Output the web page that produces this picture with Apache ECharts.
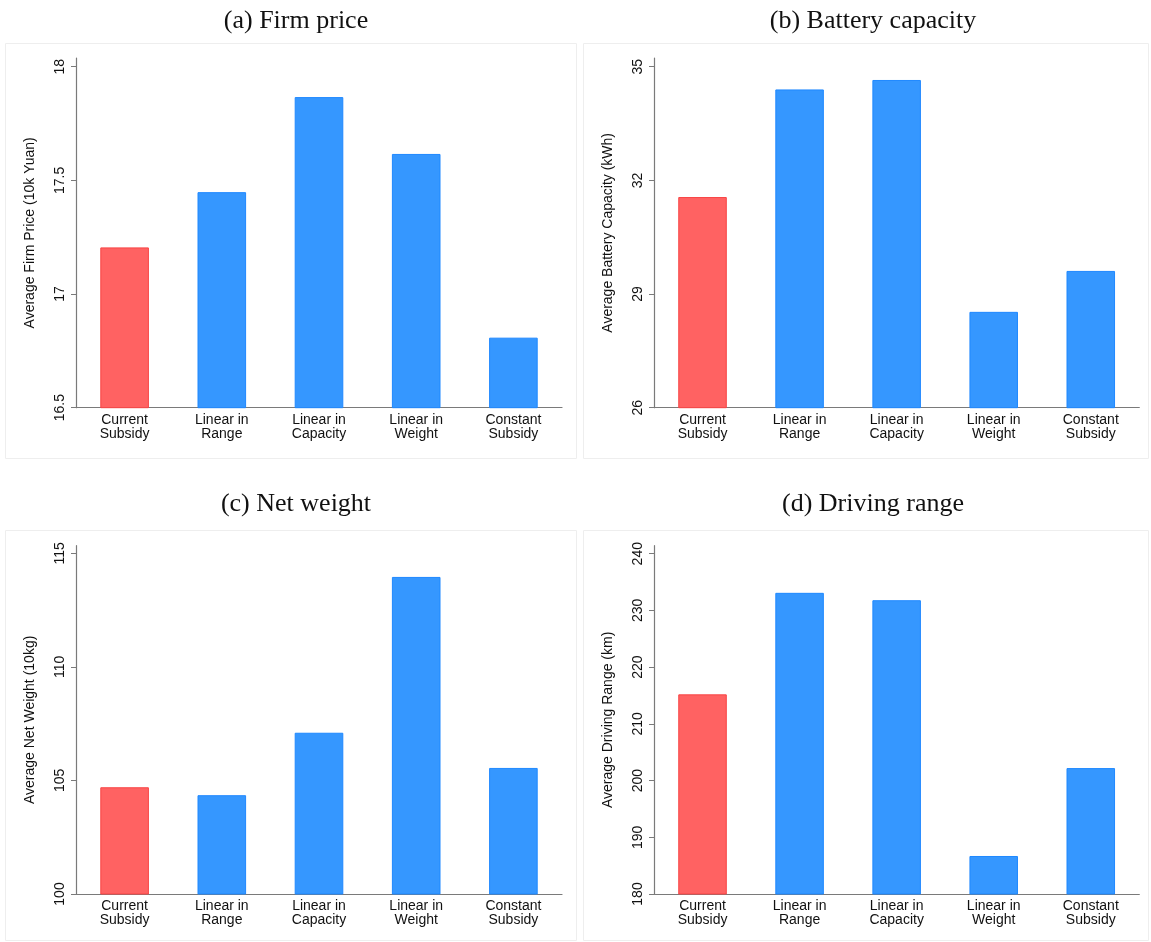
<!DOCTYPE html>
<html>
<head>
<meta charset="utf-8">
<script src="https://cdn.jsdelivr.net/npm/echarts@6/dist/echarts.min.js"></script>
<style>
  html, body { margin: 0; padding: 0; background: #fff; }
  #chart { width: 1151px; height: 942px; }
</style>
</head>
<body>
<div id="chart"></div>
<script>
// Policy scenarios shown on every panel
const categories = ['Current\nSubsidy', 'Linear in\nRange', 'Linear in\nCapacity', 'Linear in\nWeight', 'Constant\nSubsidy'];

// Panel values
const firmPrice = [17.205, 17.448, 17.866, 17.616, 16.808];
const batteryCapacity = [31.56, 34.40, 34.65, 28.53, 29.61];
const netWeight = [104.70, 104.35, 107.10, 113.96, 105.55];
const drivingRange = [215.2, 233.1, 231.8, 186.7, 202.2];

// Tick values for each y axis
const ticksPrice = [16.5, 17, 17.5, 18];
const ticksBattery = [26, 29, 32, 35];
const ticksWeight = [100, 105, 110, 115];
const ticksRange = [180, 190, 200, 210, 220, 230, 240];

const panelTitles = ['(a) Firm price', '(b) Battery capacity', '(c) Net weight', '(d) Driving range'];
const axisNames = ['Average Firm Price (10k Yuan)', 'Average Battery Capacity (kWh)', 'Average Net Weight (10kg)', 'Average Driving Range (km)'];

const RED = '#FF6262', RED_EDGE = '#F84444';
const BLUE = '#3597FF', BLUE_EDGE = '#1F88FF';
const SANS = '"Liberation Sans", Arial, Helvetica, sans-serif';
const SERIF = '"Liberation Serif", "Times New Roman", Times, serif';

const panels = [
  { values: firmPrice, ticks: ticksPrice, over: 0.038, grid: { left: 76, top: 58, width: 486, height: 349.7 }, title: [291, 3] },
  { values: batteryCapacity, ticks: ticksBattery, over: 0.23, grid: { left: 654, top: 58, width: 485.3, height: 349.7 }, title: [868, 3] },
  { values: netWeight, ticks: ticksWeight, over: 0.335, grid: { left: 76, top: 545.7, width: 486, height: 348.3 }, title: [291, 486] },
  { values: drivingRange, ticks: ticksRange, over: 1.41, grid: { left: 654, top: 545.7, width: 485.3, height: 348.3 }, title: [868, 486] }
];

const chart = echarts.init(document.getElementById('chart'), null, { renderer: 'canvas' });

const option = {
  backgroundColor: '#ffffff',
  animation: false,
  graphic: [
    { type: 'rect', shape: { x: 5.5, y: 43.5, width: 571, height: 415 }, style: { fill: '#fff', stroke: '#eeeeee', lineWidth: 1 }, z: -10 },
    { type: 'rect', shape: { x: 583.5, y: 43.5, width: 565, height: 415 }, style: { fill: '#fff', stroke: '#eeeeee', lineWidth: 1 }, z: -10 },
    { type: 'rect', shape: { x: 5.5, y: 530.5, width: 571, height: 410 }, style: { fill: '#fff', stroke: '#eeeeee', lineWidth: 1 }, z: -10 },
    { type: 'rect', shape: { x: 583.5, y: 530.5, width: 565, height: 410 }, style: { fill: '#fff', stroke: '#eeeeee', lineWidth: 1 }, z: -10 }
  ],
  title: panels.map((p, i) => ({
    text: panelTitles[i],
    left: p.title[0],
    top: p.title[1],
    textAlign: 'center',
    textStyle: { fontFamily: SERIF, fontSize: 26, fontWeight: 'normal', color: '#111' }
  })),
  grid: panels.map(p => Object.assign({ containLabel: false }, p.grid)),
  xAxis: panels.map((p, i) => ({
    type: 'category',
    gridIndex: i,
    data: categories,
    boundaryGap: true,
    axisLine: { lineStyle: { color: '#7a7a7a', width: 1.2 } },
    axisTick: { show: false },
    axisLabel: { fontFamily: SANS, fontSize: 14, color: '#111', lineHeight: 14, margin: 5, interval: 0 }
  })),
  yAxis: panels.map((p, i) => ({
    type: 'value',
    gridIndex: i,
    min: p.ticks[0],
    max: p.ticks[p.ticks.length - 1] + p.over,
    name: axisNames[i],
    nameLocation: 'middle',
    nameRotate: 90,
    nameGap: 39,
    nameTextStyle: { fontFamily: SANS, fontSize: 14, color: '#111' },
    splitLine: { show: false },
    axisLine: { show: true, lineStyle: { color: '#7a7a7a', width: 1.2 } },
    axisTick: { show: true, length: 5, customValues: p.ticks, lineStyle: { color: '#7a7a7a' } },
    axisLabel: { customValues: p.ticks, rotate: 90, fontFamily: SANS, fontSize: 14, color: '#111', margin: 9 }
  })),
  series: panels.map((p, i) => ({
    type: 'bar',
    xAxisIndex: i,
    yAxisIndex: i,
    barWidth: '50%',
    data: p.values.map((v, j) => ({
      value: v,
      itemStyle: j === 0
        ? { color: RED, borderColor: RED_EDGE, borderWidth: 1 }
        : { color: BLUE, borderColor: BLUE_EDGE, borderWidth: 1 }
    }))
  }))
};

chart.setOption(option);
</script>
</body>
</html>
